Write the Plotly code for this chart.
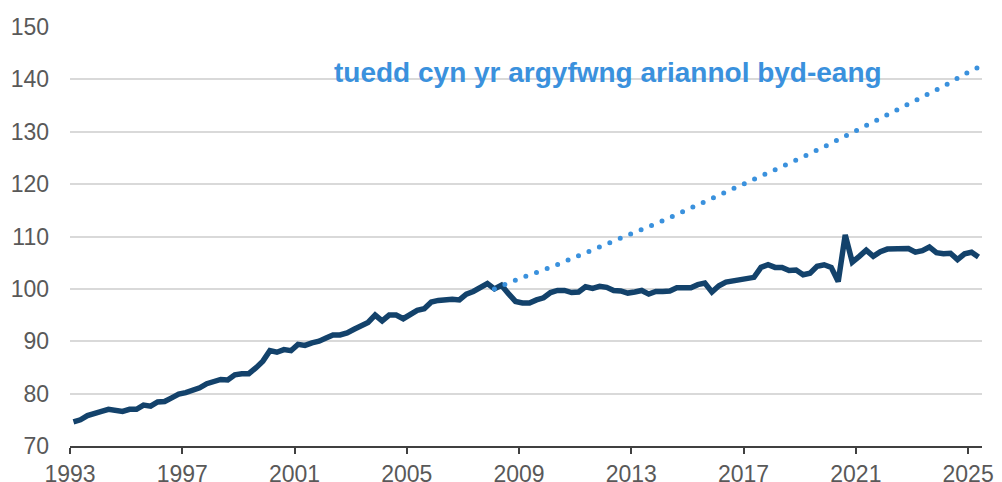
import pandas as pd
import plotly.graph_objects as go

# quarterly series, 1993 Q1 onwards (index)
start_quarter = "1993Q1"
series_values = [
    74.6, 75.0, 75.8, 76.3, 76.6, 77.0, 76.8, 76.6,
    77.0, 77.0, 77.8, 77.6, 78.4, 78.5, 79.2, 79.9,
    80.2, 80.6, 81.1, 81.9, 82.2, 82.7, 82.6, 83.6,
    83.8, 83.8, 84.9, 86.2, 88.2, 87.9, 88.4, 88.2,
    89.4, 89.2, 89.7, 90.0, 90.6, 91.2, 91.2, 91.6,
    92.3, 92.9, 93.6, 95.0, 93.9, 95.0, 95.0, 94.3,
    95.0, 95.9, 96.2, 97.5, 97.8, 98.0, 98.0, 97.9,
    99.0, 99.5, 100.2, 101.0, 100.0, 100.7, 99.1, 97.6,
    97.3, 97.3, 97.9, 98.3, 99.3, 99.7, 99.7, 99.3,
    99.4, 100.4, 100.1, 100.5, 100.3, 99.7, 99.6, 99.2,
    99.4, 99.7, 99.0, 99.5, 99.5, 99.6, 100.2, 100.2,
    100.2, 100.8, 101.1, 99.4, 100.6, 101.3, 101.5, 101.7,
    102.0, 102.2, 104.1, 104.6, 104.1, 104.1, 103.5, 103.6,
    102.7, 103.0, 104.3, 104.6, 104.1, 101.4, 110.3, 105.1,
    106.2, 107.4, 106.2, 107.1, 107.6, 107.7, 107.8, 107.7,
    107.0, 107.3, 108.0, 106.9, 106.7, 106.8, 105.6, 106.7,
    107.0, 106.1,
]

# pre-crisis trend
trend_quarters = [
    "2008Q1", "2009Q1", "2010Q1", "2011Q1", "2012Q1", "2013Q1",
    "2014Q1", "2015Q1", "2016Q1", "2017Q1", "2018Q1", "2019Q1",
    "2020Q1", "2021Q1", "2022Q1", "2023Q1", "2024Q1", "2025Q1", "2025Q2",
]
trend_values = [
    100.0, 102.2, 104.1, 106.4, 108.5, 110.8,
    113.0, 115.4, 117.8, 120.2, 122.7, 125.2,
    127.8, 130.5, 133.2, 136.0, 138.7, 141.7, 142.3,
]

trend_label = "tuedd cyn yr argyfwng ariannol byd-eang"
tick_years = ["1993", "1997", "2001", "2005", "2009", "2013", "2017", "2021", "2025"]
y_ticks = [70, 80, 90, 100, 110, 120, 130, 140, 150]


def mid_quarter(periods):
    # plot each quarter at the middle of its span
    return periods.start_time + (periods.end_time - periods.start_time) / 2


series_x = mid_quarter(pd.period_range(start_quarter, periods=len(series_values), freq="Q"))
trend_x = mid_quarter(pd.PeriodIndex(trend_quarters, freq="Q"))

navy = "#13426b"
blue = "#3a91dd"
font = "Liberation Sans, Arial, sans-serif"

fig = go.Figure()
fig.add_trace(go.Scatter(
    x=series_x, y=series_values, mode="lines",
    line=dict(color=navy, width=5.5), hoverinfo="skip",
))
fig.add_trace(go.Scatter(
    x=trend_x, y=trend_values, mode="lines",
    line=dict(color=blue, width=5, dash="0px,11.3px"), hoverinfo="skip",
))

fig.add_annotation(
    text="<b>" + trend_label + "</b>",
    xref="paper", x=(332 - 70) / 912, xanchor="left",
    yref="y", y=141.4, yanchor="middle",
    showarrow=False, font=dict(family=font, size=28, color=blue),
)

fig.update_layout(
    width=1002, height=482,
    margin=dict(l=70, r=20, t=27, b=36),
    paper_bgcolor="white", plot_bgcolor="white",
    showlegend=False,
    font=dict(family=font, size=23, color="#595959"),
)
fig.update_xaxes(
    type="date", automargin=False,
    range=["1993-01-01", "2025-07-01"],
    tickmode="array",
    tickvals=[y + "-01-01" for y in tick_years],
    ticktext=tick_years,
    showgrid=False, zeroline=False,
    showline=True, linecolor="#404040", linewidth=2,
    ticks="outside", ticklen=6, tickwidth=2, tickcolor="#404040",
    ticklabelstandoff=0,
)
fig.update_yaxes(
    automargin=False,
    range=[70, 150],
    tickmode="array", tickvals=y_ticks,
    showgrid=True, gridcolor="#d9d9d9", gridwidth=1.5,
    zeroline=False, showline=False, ticks="",
    ticklabelstandoff=20,
)

# drop the page margin, and round caps turn the zero-length dashes into dots
page_fix = """
document.body.style.margin = '0';
document.querySelectorAll('.scatterlayer .trace').forEach(function (t, i) {
  if (i === 1) {
    t.querySelectorAll('path.js-line').forEach(function (p) {
      p.style.strokeLinecap = 'round';
    });
  }
});
"""

fig.write_html("out.html", post_script=page_fix, config={"displayModeBar": False})
